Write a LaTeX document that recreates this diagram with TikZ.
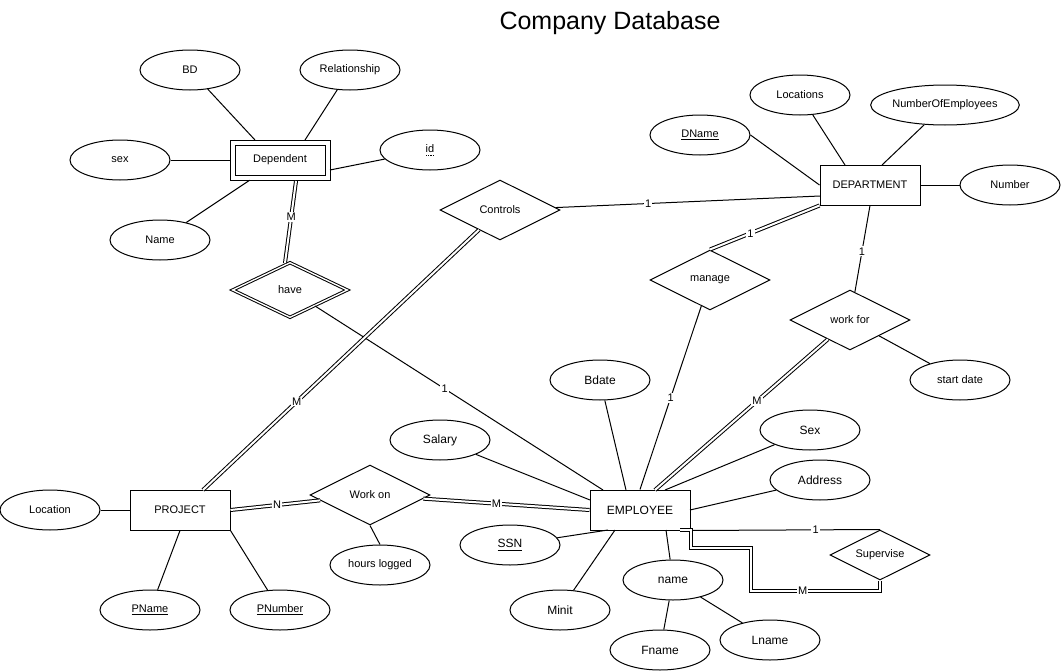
\documentclass[tikz,border=0pt]{standalone}
\usepackage{fontspec}
\setmainfont{Liberation Sans}
\usetikzlibrary{shapes.geometric}
\usetikzlibrary{calc}

\newcommand{\dotunder}[1]{\setbox0\hbox{#1}\leavevmode\rlap{\raisebox{-2pt}{\hbox to \wd0{\xleaders\hbox to 1.2pt{\hss\rule{0.6pt}{0.6pt}\hss}\hfill}}}#1}

\tikzset{
  txt/.style={font=\fontsize{8.25}{10}\selectfont},
  bigtxt/.style={font=\fontsize{9}{11}\selectfont},
  entity/.style={draw, rectangle, minimum width=75pt, minimum height=30pt, inner sep=0pt},
  weakentity/.style={entity, double, double distance=3pt, minimum width=71.25pt, minimum height=26.25pt, outer sep=2pt},
  attribute/.style={draw, ellipse, minimum width=75pt, minimum height=30pt, inner sep=0pt},
  relation/.style={draw, diamond, aspect=2, minimum width=90pt, minimum height=45pt, inner sep=0pt},
  weakrelation/.style={relation, double, double distance=1pt, minimum width=86.25pt, minimum height=41.25pt},
  doubleline/.style={double, double distance=1.5pt},
  card/.style={txt, fill=white, inner sep=0.8pt},
}

\begin{document}
\begin{tikzpicture}[x=0.75pt, y=-0.75pt, line width=0.75pt, txt]

\useasboundingbox (0,0) rectangle (1061,671);

\node [anchor=base, font=\fontsize{18.75}{22}\selectfont] (t) at (610,30) {Company Database};

\node [weakentity] (e1) at (280,160) {Dependent};
\node [entity] (e2) at (870,185) {DEPARTMENT};
\node [entity] (e3) at (180,510) {PROJECT};
\node [entity, bigtxt] (e4) at (640,510) {EMPLOYEE};

\node [weakrelation] (r1) at (290,290) {have};
\node [relation] (r2) at (500,210) {Controls};
\node [relation] (r3) at (710,280) {manage};
\node [relation] (r4) at (850,320) {work for};
\node [relation] (r5) at (370,495) {Work on};
\node [relation, minimum width=75pt, minimum height=37.5pt] (r6) at (880,555) {Supervise};

\node [attribute] (a1) at (190,70) {BD};
\node [attribute] (a2) at (350,70) {Relationship};
\node [attribute] (a3) at (120,160) {sex};
\node [attribute] (a4) at (430,150) {\dotunder{id}};
\node [attribute] (a5) at (160,240) {Name};
\node [attribute] (a6) at (700,135) {\underline{DName}};
\node [attribute] (a7) at (800,95) {Locations};
\node [attribute, minimum width=97.5pt] (a8) at (945,105) {NumberOfEmployees};
\node [attribute] (a9) at (1010,185) {Number};
\node [attribute] (a10) at (960,380) {start date};
\node [attribute] (a11) at (50,510) {Location};
\node [attribute] (a12) at (150,610) {\underline{PName}};
\node [attribute] (a13) at (280,610) {\underline{PNumber}};
\node [attribute] (a14) at (380,565) {hours logged};
\node [attribute, bigtxt] (a15) at (440,440) {Salary};
\node [attribute, bigtxt] (a16) at (600,380) {Bdate};
\node [attribute, bigtxt] (a17) at (810,430) {Sex};
\node [attribute, bigtxt] (a18) at (820,480) {Address};
\node [attribute, bigtxt] (a19) at (510,545) {\underline{SSN}};
\node [attribute, bigtxt] (a20) at (560,610) {Minit};
\node [attribute, bigtxt] (a21) at (673,580) {name};
\node [attribute, bigtxt] (a22) at (660,650) {Fname};
\node [attribute, bigtxt] (a23) at (770,640) {Lname};

\draw (a1) edge ($(e1)+(-25,-20)$);
\draw (a2) edge ($(e1)+(25,-20)$);
\draw (a3) edge (e1);
\draw (a4) edge ($(e1)+(50,10)$);
\draw (a5) edge (e1);
\draw ($(e1)+(16,21)$) edge [doubleline] node[card,pos=0.44]{M} ($(r1)+(-5,-27)$);
\draw (r1) edge node[card,pos=0.45]{1} ($(e4)+(-37,-20)$);
\draw (r2) edge node[card,pos=0.35]{1} ($(e2)+(-50,11)$);
\draw (r2) edge [doubleline] node[card,pos=0.66]{M} ($(e3)+(23,-20)$);
\draw (a6.east) edge (e2.west);
\draw (a7) edge ($(e2)+(-25,-20)$);
\draw (a8) edge ($(e2)+(12,-20)$);
\draw (a9) edge (e2);
\draw (e2.south west) edge [doubleline] node[card,pos=0.63]{1} (r3.north);
\draw (e2.south) edge node[card,pos=0.53]{1} (r4);
\draw (r3) edge node[card,pos=0.5]{1} (e4.north);
\draw (r4) edge [doubleline] node[card,pos=0.41]{M} ($(e4)+(15,-20)$);
\draw (r4) edge (a10);
\draw (a11) edge (e3);
\draw (a12) edge (e3.south);
\draw (a13) edge (e3.south east);
\draw (e3.east) edge [doubleline] node[card,pos=0.52]{N} (r5);
\draw (r5) edge [doubleline] node[card,pos=0.44]{M} (e4.west);
\draw (r5.south) edge (a14.north);
\draw (a15) edge ($(e4)+(-50,-10)$);
\draw (a16) edge ($(e4)+(-14,-20)$);
\draw (a17) edge ($(e4)+(25,-20)$);
\draw (a18) edge ($(e4)+(50,0)$);
\draw (a19) edge ($(e4)+(-32,20)$);
\draw (a20) edge ($(e4)+(-25,20)$);
\draw (a21) edge ($(e4)+(26,20)$);
\draw (a22) edge (a21);
\draw (a23) edge (a21);
\draw (e4.south east) edge node[card,pos=0.66]{1} (r6.north);
\draw [doubleline] ($(e4)+(40,20)$) -- ++(11,0) -- ++(0,18) -- ++(60,0) -- ++(0,43) -- node[card,pos=0.4]{M} ++(129,0) -- (r6.south);

\end{tikzpicture}
\end{document}
